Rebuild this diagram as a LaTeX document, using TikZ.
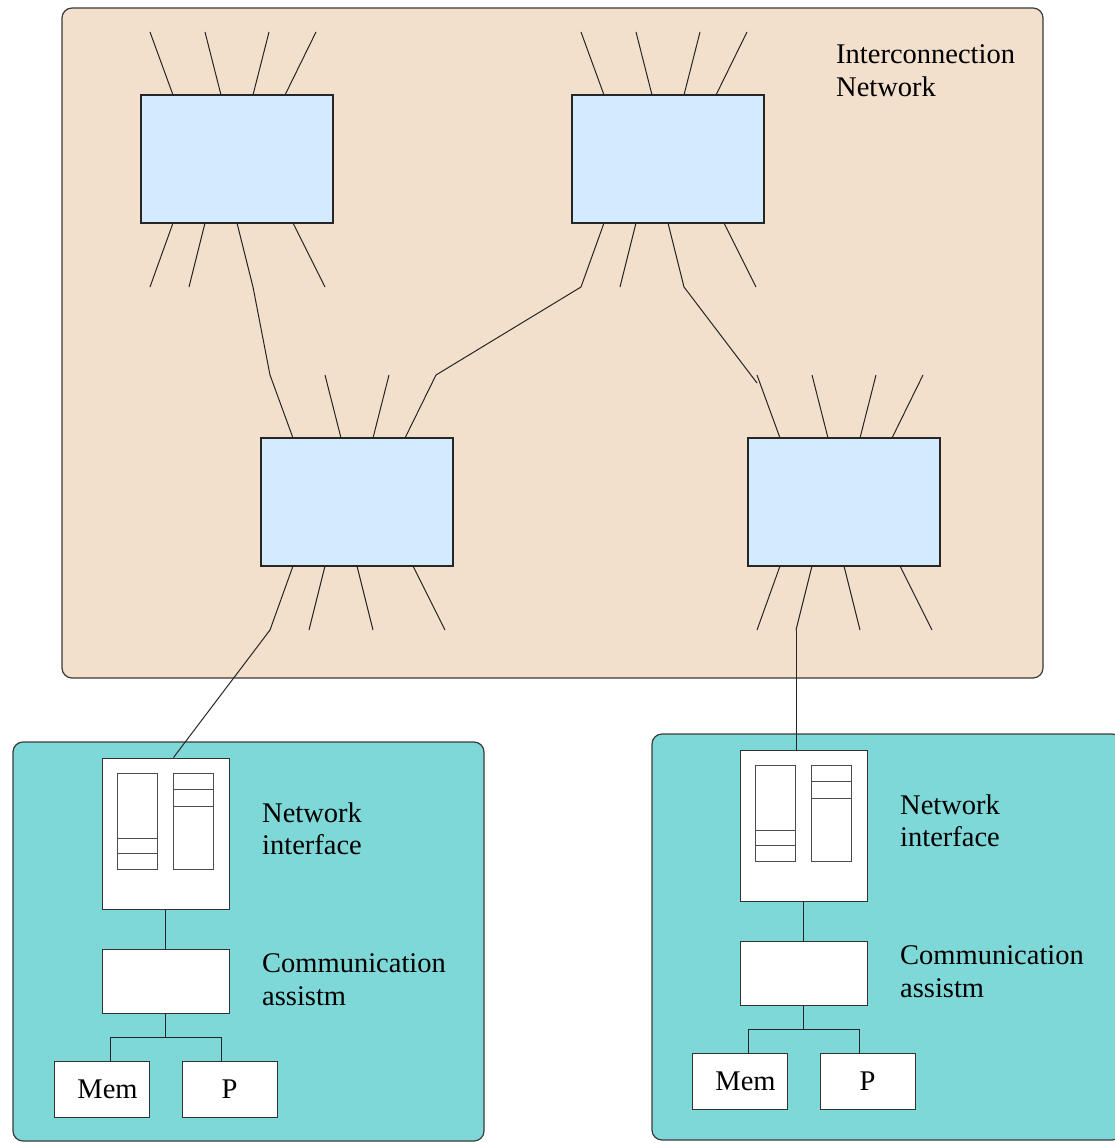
\documentclass[tikz,border=0pt]{standalone}
\usepackage{fontspec}
\setmainfont{Liberation Serif}
\usetikzlibrary{calc}

\definecolor{nettan}{HTML}{F2DFCC}
\definecolor{swblue}{HTML}{D4EBFD}
\definecolor{nodecyan}{HTML}{7FD8D8}
\definecolor{edgegray}{HTML}{3A3A3A}

\tikzset{
  wire/.style={line width=1pt, draw=black!85},
  panelbox/.style={rounded corners=10pt, line width=1.2pt, draw=edgegray},
  switchbox/.style={draw=black!85, line width=1.2pt, fill=swblue,
    minimum width=192pt, minimum height=128pt, inner sep=0pt, outer sep=0pt},
  whitebox/.style={draw=black!80, line width=1pt, fill=white, inner sep=0pt,
    font=\fontsize{28.5}{33}\selectfont},
  buf/.style={draw=black!70, line width=1pt, fill=white},
  lbl/.style={font=\fontsize{28.5}{33}\selectfont, inner sep=0pt, anchor=base west},
}

% short port lines above and below a switch; their free ends are named
% <switch>-t1..t4 and <switch>-b1..b4
\newcommand\swstubs[1]{%
  \foreach \off/\dx [count=\k] in {32/-23,80/-16,112/16,144/31}
    {\draw[wire] ([xshift=\off pt]#1.north west) -- ++(\dx,-63) coordinate (#1-t\k);}
  \foreach \off/\dx [count=\k] in {32/-23,64/-16,96/16,152/32}
    {\draw[wire] ([xshift=\off pt]#1.south west) -- ++(\dx,64) coordinate (#1-b\k);}
}

% one processing node: network interface, communication assist, Mem and P
\newcommand\procnode[1]{%
  \node[whitebox, minimum width=127pt, minimum height=151pt] (ni#1) at (165.5,833.5) {};
  \draw[buf] (117,773) rectangle (157,869);
  \draw[buf] (117,838) -- (157,838) (117,853) -- (157,853);
  \draw[buf] (173,773) rectangle (213,869);
  \draw[buf] (173,789) -- (213,789) (173,806) -- (213,806);
  \node[whitebox, minimum width=127pt, minimum height=64pt] (ca#1) at (165.5,981) {};
  \node[whitebox, minimum width=95pt, minimum height=56pt] (mem#1) at (101.5,1089) {\hspace*{12pt}Mem};
  \node[whitebox, minimum width=95pt, minimum height=56pt] (p#1) at (229.5,1089) {P};
  \coordinate (tee#1) at (165.5,1037);
  \draw[wire] (ni#1) -- (ca#1);
  \draw[wire] (ca#1) -- (tee#1);
  \draw[wire] ([xshift=8.5pt]mem#1.north) |- (tee#1) -| ([xshift=-8.5pt]p#1.north);
  \node[lbl] (nit#1) at (262,822) {Network};
  \node[lbl] (nib#1) at (262,854) {interface};
  \node[lbl] (cat#1) at (262,972) {Communication};
  \node[lbl] (cab#1) at (262,1005) {assistm};
}

\begin{document}
\begin{tikzpicture}[x=1pt, y=-1pt]
  \useasboundingbox (0,0) rectangle (1115,1143);
  \clip (0,0) rectangle (1115,1143);

  % interconnection network
  \draw[panelbox, fill=nettan] (62,8) rectangle (1043,678);
  \node[lbl] (ic1) at (836,63) {Interconnection};
  \node[lbl] (ic2) at (836,96) {Network};

  \node[switchbox] (s1) at (237,159) {};
  \node[switchbox] (s2) at (668,159) {};
  \node[switchbox] (s3) at (357,502) {};
  \node[switchbox] (s4) at (844,502) {};
  \swstubs{s1}
  \swstubs{s2}
  \swstubs{s3}
  \swstubs{s4}

  % links between switches
  \draw[wire] (s1-b3) -- (s3-t1);
  \draw[wire] (s2-b1) -- (s3-t4);
  \draw[wire] (s2-b3) -- ([yshift=-8pt]s4-t1);

  % processing nodes
  \draw[panelbox, fill=nodecyan] (13,742) rectangle (484,1141);
  \draw[panelbox, fill=nodecyan] (652,734) rectangle (1122,1140);
  \procnode{L}
  \begin{scope}[shift={(638,-8)}]
    \procnode{R}
  \end{scope}

  % attachment of the nodes to the network
  \draw[wire] (s3-b1) -- ([xshift=8pt]niL.north);
  \draw[wire] (s4-b2) -- (s4-b2 |- niR.north);
\end{tikzpicture}
\end{document}
